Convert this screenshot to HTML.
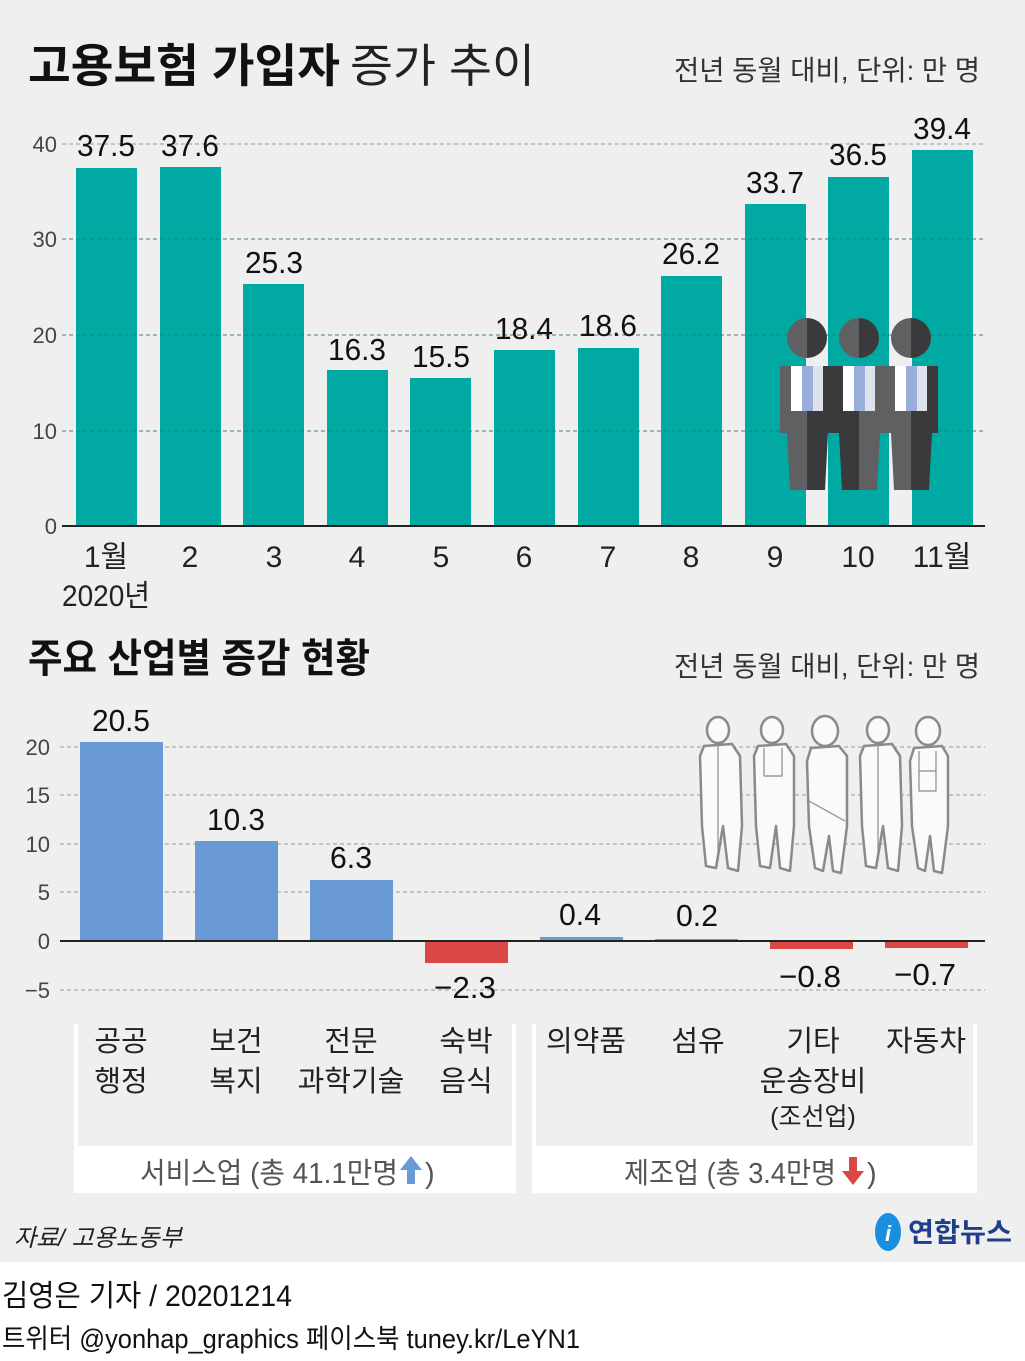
<!DOCTYPE html>
<html><head><meta charset="utf-8"><style>
body{margin:0;background:#fff}
svg text{font-family:"Liberation Sans","Noto Sans CJK KR",sans-serif}
</style></head><body>
<svg width="1025" height="1356" viewBox="0 0 1025 1356" xmlns="http://www.w3.org/2000/svg">
<rect x="0" y="0" width="1025" height="1262" fill="#efefef"/>
<text x="28" y="82" font-size="46" font-weight="bold" fill="#111" textLength="312" lengthAdjust="spacingAndGlyphs">고용보험 가입자</text>
<text x="350" y="82" font-size="46" fill="#222" textLength="185" lengthAdjust="spacingAndGlyphs">증가 추이</text>
<text x="980" y="80" font-size="28" fill="#333" text-anchor="end" textLength="306" lengthAdjust="spacingAndGlyphs">전년 동월 대비, 단위: 만 명</text>
<g stroke="#999" stroke-dasharray="4,3" stroke-width="1">
<line x1="62" y1="144" x2="985" y2="144"/><line x1="62" y1="239" x2="985" y2="239"/>
<line x1="62" y1="335" x2="985" y2="335"/><line x1="62" y1="431" x2="985" y2="431"/>
</g>
<g font-size="22" fill="#444" text-anchor="end">
<text x="57" y="152">40</text><text x="57" y="247">30</text><text x="57" y="343">20</text><text x="57" y="439">10</text><text x="57" y="534">0</text>
</g>
<g fill="#00aaa2">
<rect x="76" y="168" width="61" height="358"/><rect x="160" y="167" width="61" height="359"/>
<rect x="243" y="284" width="61" height="242"/><rect x="327" y="370" width="61" height="156"/>
<rect x="410" y="378" width="61" height="148"/><rect x="494" y="350" width="61" height="176"/>
<rect x="578" y="348" width="61" height="178"/><rect x="661" y="276" width="61" height="250"/>
<rect x="745" y="204" width="61" height="322"/><rect x="828" y="177" width="61" height="349"/>
<rect x="912" y="150" width="61" height="376"/>
</g>
<g stroke="#0a6f6a" stroke-dasharray="4,3" stroke-width="1" opacity="0.6">
<line x1="62" y1="239" x2="985" y2="239"/><line x1="62" y1="335" x2="985" y2="335"/><line x1="62" y1="431" x2="985" y2="431"/>
</g>
<line x1="62" y1="526" x2="985" y2="526" stroke="#222" stroke-width="2"/>
<g font-size="31" fill="#111" text-anchor="middle">
<text x="106" y="156" textLength="58" lengthAdjust="spacingAndGlyphs">37.5</text>
<text x="190" y="156" textLength="58" lengthAdjust="spacingAndGlyphs">37.6</text>
<text x="274" y="273" textLength="58" lengthAdjust="spacingAndGlyphs">25.3</text>
<text x="357" y="360" textLength="58" lengthAdjust="spacingAndGlyphs">16.3</text>
<text x="441" y="367" textLength="58" lengthAdjust="spacingAndGlyphs">15.5</text>
<text x="524" y="339" textLength="58" lengthAdjust="spacingAndGlyphs">18.4</text>
<text x="608" y="336" textLength="58" lengthAdjust="spacingAndGlyphs">18.6</text>
<text x="691" y="264" textLength="58" lengthAdjust="spacingAndGlyphs">26.2</text>
<text x="775" y="193" textLength="58" lengthAdjust="spacingAndGlyphs">33.7</text>
<text x="858" y="165" textLength="58" lengthAdjust="spacingAndGlyphs">36.5</text>
<text x="942" y="139" textLength="58" lengthAdjust="spacingAndGlyphs">39.4</text>
</g>
<g font-size="30" fill="#222" text-anchor="middle">
<text x="106" y="567">1월</text><text x="190" y="567">2</text><text x="274" y="567">3</text><text x="357" y="567">4</text>
<text x="441" y="567">5</text><text x="524" y="567">6</text><text x="608" y="567">7</text><text x="691" y="567">8</text>
<text x="775" y="567">9</text><text x="858" y="567">10</text><text x="942" y="567">11월</text>
<text x="106" y="606" textLength="88" lengthAdjust="spacingAndGlyphs">2020년</text>
</g>
<g>
 <g transform="translate(780,318)">
  <path d="M27 0 A20 20 0 0 0 27 40 Z" fill="#5f6062"/><path d="M27 0 A20 20 0 0 1 27 40 Z" fill="#3a3a3c"/>
  <rect x="0" y="48" width="54" height="67" fill="#5f6062"/><rect x="27" y="48" width="27" height="67" fill="#3a3a3c"/>
  <rect x="11" y="48" width="11" height="45" fill="#fff"/><rect x="22" y="48" width="11" height="45" fill="#99aedb"/><rect x="33" y="48" width="10" height="45" fill="#dde2ec"/>
  <path d="M7 115 L27 115 L27 172 L10 172 Z" fill="#5f6062"/><path d="M27 115 L48 115 L45 172 L27 172 Z" fill="#3a3a3c"/>
 </g>
 <g transform="translate(832,318)">
  <path d="M27 0 A20 20 0 0 0 27 40 Z" fill="#5f6062"/><path d="M27 0 A20 20 0 0 1 27 40 Z" fill="#3a3a3c"/>
  <rect x="0" y="48" width="54" height="67" fill="#3a3a3c"/><rect x="27" y="48" width="27" height="67" fill="#5f6062"/>
  <rect x="11" y="48" width="11" height="45" fill="#fff"/><rect x="22" y="48" width="11" height="45" fill="#99aedb"/><rect x="33" y="48" width="10" height="45" fill="#dde2ec"/>
  <path d="M7 115 L27 115 L27 172 L10 172 Z" fill="#3a3a3c"/><path d="M27 115 L48 115 L45 172 L27 172 Z" fill="#5f6062"/>
 </g>
 <g transform="translate(884,318)">
  <path d="M27 0 A20 20 0 0 0 27 40 Z" fill="#5f6062"/><path d="M27 0 A20 20 0 0 1 27 40 Z" fill="#3a3a3c"/>
  <rect x="0" y="48" width="54" height="67" fill="#5f6062"/><rect x="27" y="48" width="27" height="67" fill="#3a3a3c"/>
  <rect x="11" y="48" width="11" height="45" fill="#fff"/><rect x="22" y="48" width="11" height="45" fill="#99aedb"/><rect x="33" y="48" width="10" height="45" fill="#dde2ec"/>
  <path d="M7 115 L27 115 L27 172 L10 172 Z" fill="#5f6062"/><path d="M27 115 L48 115 L45 172 L27 172 Z" fill="#3a3a3c"/>
 </g>
</g>
<text x="28" y="672" font-size="40" font-weight="bold" fill="#111" textLength="342" lengthAdjust="spacingAndGlyphs">주요 산업별 증감 현황</text>
<text x="980" y="676" font-size="28" fill="#333" text-anchor="end" textLength="306" lengthAdjust="spacingAndGlyphs">전년 동월 대비, 단위: 만 명</text>
<g stroke="#999" stroke-dasharray="4,3" stroke-width="1">
<line x1="60" y1="747" x2="985" y2="747"/><line x1="60" y1="795" x2="985" y2="795"/>
<line x1="60" y1="844" x2="985" y2="844"/><line x1="60" y1="892" x2="985" y2="892"/>
<line x1="60" y1="990" x2="985" y2="990"/>
</g>
<g font-size="22" fill="#444" text-anchor="end">
<text x="50" y="755">20</text><text x="50" y="803">15</text><text x="50" y="852">10</text><text x="50" y="900">5</text><text x="50" y="949">0</text><text x="50" y="998">−5</text>
</g>
<g fill="#fafafa" stroke="#8a8a8a" stroke-width="2.5" stroke-linejoin="round">
 <g transform="translate(698,716)"><ellipse cx="20" cy="14" rx="11" ry="13"/><path d="M6 30 L34 28 L42 40 L44 110 L40 155 L30 152 L25 110 L18 152 L8 150 L4 110 L2 40 Z"/><path d="M20 30 L20 145" fill="none" stroke-width="1.2"/></g>
 <g transform="translate(752,716)"><ellipse cx="20" cy="14" rx="11" ry="13"/><path d="M6 30 L34 28 L42 40 L42 110 L38 155 L28 152 L24 110 L18 152 L8 150 L4 110 L2 40 Z"/><path d="M12 32 L12 60 L30 60 L30 32" fill="none" stroke-width="1.2"/></g>
 <g transform="translate(805,716)"><ellipse cx="20" cy="15" rx="13" ry="15"/><path d="M6 32 L34 30 L42 40 L42 110 L36 157 L28 155 L24 120 L18 155 L10 152 L4 110 L2 45 Z"/><path d="M4 85 L40 105" fill="none" stroke-width="1.2"/></g>
 <g transform="translate(858,716)"><ellipse cx="20" cy="14" rx="11" ry="13"/><path d="M6 30 L34 28 L42 40 L44 110 L40 155 L30 152 L25 110 L18 152 L8 150 L4 110 L2 40 Z"/><path d="M20 30 L20 145" fill="none" stroke-width="1.2"/></g>
 <g transform="translate(908,716)"><ellipse cx="20" cy="15" rx="12" ry="14"/><path d="M6 32 L34 30 L40 40 L40 110 L34 157 L26 155 L22 120 L17 155 L10 152 L4 110 L2 45 Z"/><path d="M11 35 L11 75 L28 75 L28 35 M11 55 L28 55" fill="none" stroke-width="1.2"/></g>
</g>
<g fill="#6a9ad4">
<rect x="80" y="742" width="83" height="199"/><rect x="195" y="841" width="83" height="100"/>
<rect x="310" y="880" width="83" height="61"/><rect x="540" y="937" width="83" height="4"/>
<rect x="655" y="939" width="83" height="2"/>
</g>
<g fill="#d94845">
<rect x="425" y="941" width="83" height="22"/><rect x="770" y="941" width="83" height="8"/><rect x="885" y="941" width="83" height="7"/>
</g>
<line x1="60" y1="941" x2="985" y2="941" stroke="#222" stroke-width="2"/>
<g font-size="31" fill="#111" text-anchor="middle">
<text x="121" y="731" textLength="58" lengthAdjust="spacingAndGlyphs">20.5</text>
<text x="236" y="830" textLength="58" lengthAdjust="spacingAndGlyphs">10.3</text>
<text x="351" y="868" textLength="42" lengthAdjust="spacingAndGlyphs">6.3</text>
<text x="465" y="998" textLength="62" lengthAdjust="spacingAndGlyphs">−2.3</text>
<text x="580" y="925" textLength="42" lengthAdjust="spacingAndGlyphs">0.4</text>
<text x="697" y="926" textLength="42" lengthAdjust="spacingAndGlyphs">0.2</text>
<text x="810" y="987" textLength="62" lengthAdjust="spacingAndGlyphs">−0.8</text>
<text x="925" y="985" textLength="62" lengthAdjust="spacingAndGlyphs">−0.7</text>
</g>
<rect x="74" y="1024" width="442" height="169" fill="#fff"/>
<rect x="78" y="1024" width="434" height="122" fill="#efefef"/>
<rect x="532" y="1024" width="445" height="169" fill="#fff"/>
<rect x="536" y="1024" width="437" height="122" fill="#efefef"/>
<g font-size="29" fill="#222" text-anchor="middle">
<text x="121" y="1051">공공</text><text x="121" y="1091">행정</text>
<text x="236" y="1051">보건</text><text x="236" y="1091">복지</text>
<text x="351" y="1051">전문</text><text x="351" y="1091">과학기술</text>
<text x="466" y="1051">숙박</text><text x="466" y="1091">음식</text>
<text x="586" y="1051">의약품</text><text x="698" y="1051">섬유</text>
<text x="813" y="1051">기타</text><text x="813" y="1091">운송장비</text>
<text x="813" y="1125" font-size="25">(조선업)</text>
<text x="926" y="1051">자동차</text>
</g>
<g font-size="29" fill="#555">
<text x="140" y="1183" textLength="258" lengthAdjust="spacingAndGlyphs">서비스업 (총 41.1만명</text>
<text x="425" y="1183">)</text>
<text x="624" y="1183" textLength="212" lengthAdjust="spacingAndGlyphs">제조업 (총 3.4만명</text>
<text x="867" y="1183">)</text>
</g>
<path d="M411 1156 L422 1170 L415 1170 L415 1184 L407 1184 L407 1170 L400 1170 Z" fill="#6a9ad4"/>
<path d="M853 1185 L864 1171 L857 1171 L857 1157 L849 1157 L849 1171 L842 1171 Z" fill="#d94845"/>
<text x="14" y="1246" font-size="24" fill="#222" font-style="italic" textLength="168" lengthAdjust="spacingAndGlyphs">자료/ 고용노동부</text>
<ellipse cx="888" cy="1232" rx="13" ry="19" fill="#1a8fe0"/>
<text x="885" y="1241" font-size="22" fill="#fff" font-style="italic" font-weight="bold">i</text>
<text x="908" y="1242" font-size="27" font-weight="bold" fill="#1f3e8c" textLength="104" lengthAdjust="spacingAndGlyphs">연합뉴스</text>
<text x="2" y="1306" font-size="30" fill="#111" textLength="290" lengthAdjust="spacingAndGlyphs">김영은 기자 / 20201214</text>
<text x="2" y="1348" font-size="27" fill="#111" textLength="578" lengthAdjust="spacingAndGlyphs">트위터 @yonhap_graphics  페이스북 tuney.kr/LeYN1</text>
</svg>
</body></html>
